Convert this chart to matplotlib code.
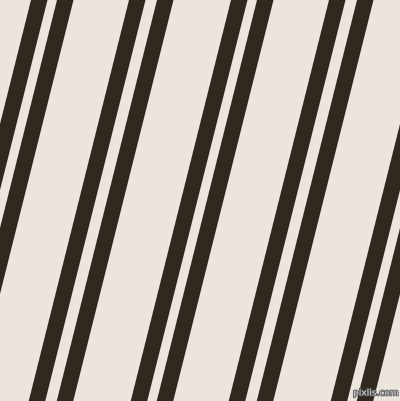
import matplotlib
matplotlib.use("Agg")
import matplotlib.pyplot as plt
import matplotlib.patheffects as pe
import numpy as np

# Pattern description (pixel units of the 400x401 image)
stripe_offsets = [31, 57, 129, 157]   # left edge of each stripe at top row, within one period
stripe_width = 16.5                   # horizontal stripe width
period = 200                          # horizontal repeat
slope = 0.25                          # horizontal shift per pixel down (leftwards)
bg_color = "#ECE5DD"
stripe_color = "#2F2920"
W, H = 400, 401

fig = plt.figure(figsize=(W / 100, H / 100), dpi=100)
ax = fig.add_axes([0, 0, 1, 1])
ax.set_xlim(0, W)
ax.set_ylim(H, 0)
ax.axis("off")
fig.patch.set_facecolor(bg_color)
ax.set_facecolor(bg_color)

for rep in range(-1, 3):
    for off in stripe_offsets:
        x0 = off + rep * period
        ys = np.array([0, 0, H, H])
        xs = np.array([x0, x0 + stripe_width, x0 + stripe_width - slope * H, x0 - slope * H])
        ax.fill(xs, ys, color=stripe_color, lw=0)

ax.text(376, 393, "pixlis.com", fontsize=6.5, color="#D8D8D8", ha="center", va="center",
        path_effects=[pe.withStroke(linewidth=1.2, foreground="#555555")])

fig.savefig("out.png", dpi=100, facecolor=bg_color)
